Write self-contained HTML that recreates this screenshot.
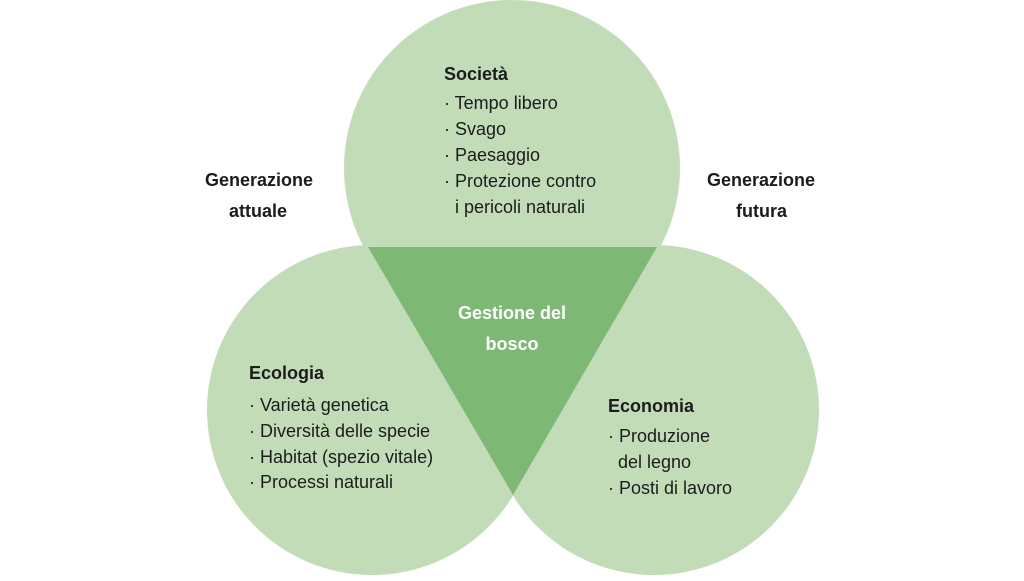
<!DOCTYPE html>
<html><head><meta charset="utf-8"><style>
body{margin:0;width:1024px;height:576px;background:#fff;overflow:hidden}
svg text{font-family:"Liberation Sans",sans-serif;font-size:18px;fill:#1c1c1c}
.b{font-weight:bold}
</style></head><body>
<svg width="1024" height="576" viewBox="0 0 1024 576">
<g fill="#c2dcb8">
<circle cx="512" cy="168" r="168"/>
<circle cx="372" cy="410" r="165"/>
<circle cx="654" cy="410" r="165"/>
</g>
<polygon points="368,247 657,247 513,495" fill="#7db974"/>
<text x="205" y="186" class="b">Generazione</text>
<text x="229" y="217" class="b">attuale</text>
<text x="707" y="186" class="b">Generazione</text>
<text x="736" y="217" class="b">futura</text>
<text x="444" y="80" class="b">Società</text>
<text x="444" y="109">· Tempo libero</text>
<text x="444" y="135">· Svago</text>
<text x="444" y="161">· Paesaggio</text>
<text x="444" y="187">· Protezione contro</text>
<text x="455" y="213">i pericoli naturali</text>
<text x="512" y="319" class="b" text-anchor="middle" style="fill:#fff">Gestione del</text>
<text x="512" y="350" class="b" text-anchor="middle" style="fill:#fff">bosco</text>
<text x="249" y="379" class="b">Ecologia</text>
<text x="249" y="411">· Varietà genetica</text>
<text x="249" y="437">· Diversità delle specie</text>
<text x="249" y="463">· Habitat (spezio vitale)</text>
<text x="249" y="488">· Processi naturali</text>
<text x="608" y="412" class="b">Economia</text>
<text x="608" y="442">· Produzione</text>
<text x="618" y="468">del legno</text>
<text x="608" y="494">· Posti di lavoro</text>
</svg>
</body></html>
